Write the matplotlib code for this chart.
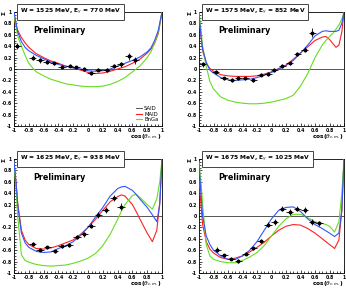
import numpy as np
import matplotlib.pyplot as plt
from matplotlib.ticker import MultipleLocator

# ---- data ----
titles = ["W = 1525 MeV, E$_{\\gamma}$ = 770 MeV",
          "W = 1575 MeV, E$_{\\gamma}$ = 852 MeV",
          "W = 1625 MeV, E$_{\\gamma}$ = 938 MeV",
          "W = 1675 MeV, E$_{\\gamma}$ = 1025 MeV"]

# measured points
pts_x = [
    [-0.96, -0.75, -0.65, -0.56, -0.46, -0.35, -0.25, -0.16, -0.06, 0.04, 0.14, 0.25, 0.35, 0.44, 0.55, 0.64],
    [-0.95, -0.77, -0.655, -0.55, -0.46, -0.36, -0.25, -0.15, -0.05, 0.04, 0.15, 0.25, 0.356, 0.457, 0.563],
    [-0.75, -0.65, -0.55, -0.45, -0.35, -0.255, -0.15, -0.05, 0.04, 0.14, 0.24, 0.345, 0.445],
    [-0.747, -0.655, -0.554, -0.457, -0.356, -0.25, -0.149, -0.048, 0.044, 0.149, 0.25, 0.356, 0.457, 0.563, 0.655],
]
pts_y = [
    [0.40, 0.20, 0.15, 0.12, 0.10, 0.04, 0.06, 0.03, 0.0, -0.07, -0.01, -0.02, 0.05, 0.08, 0.22, 0.15],
    [0.08, -0.05, -0.165, -0.195, -0.155, -0.165, -0.195, -0.10, -0.085, -0.02, 0.05, 0.10, 0.26, 0.34, 0.64],
    [-0.49, -0.59, -0.55, -0.62, -0.53, -0.51, -0.37, -0.32, -0.17, 0.015, 0.10, 0.31, 0.16],
    [-0.59, -0.69, -0.75, -0.79, -0.66, -0.57, -0.44, -0.15, -0.10, 0.13, 0.07, 0.13, 0.10, -0.11, -0.13],
]
pts_ey = [
    [0.05, 0.04, 0.04, 0.03, 0.03, 0.03, 0.03, 0.03, 0.03, 0.03, 0.03, 0.03, 0.04, 0.04, 0.06, 0.06],
    [0.05, 0.04, 0.03, 0.03, 0.03, 0.03, 0.03, 0.03, 0.03, 0.03, 0.03, 0.03, 0.04, 0.05, 0.08],
    [0.04, 0.03, 0.03, 0.03, 0.03, 0.03, 0.04, 0.04, 0.04, 0.05, 0.05, 0.05, 0.06],
    [0.04, 0.03, 0.03, 0.03, 0.03, 0.03, 0.04, 0.05, 0.05, 0.05, 0.05, 0.05, 0.05, 0.05, 0.05],
]

# model curves: x grid per panel, then SAID / MAID / BnGa
cx = [
    [-1.0, -0.95, -0.9, -0.85, -0.8, -0.7, -0.6, -0.5, -0.4, -0.3, -0.2, -0.1, 0.0, 0.1, 0.2, 0.3, 0.4, 0.5, 0.6, 0.7, 0.8, 0.85, 0.9, 0.95, 1.0],
    [-1.0, -0.97, -0.95, -0.9, -0.85, -0.8, -0.7, -0.6, -0.5, -0.4, -0.3, -0.2, -0.1, 0.0, 0.1, 0.2, 0.3, 0.4, 0.5, 0.6, 0.7, 0.75, 0.8, 0.85, 0.89, 0.93, 0.97, 1.0],
    [-1.0, -0.97, -0.95, -0.9, -0.85, -0.8, -0.7, -0.6, -0.5, -0.4, -0.3, -0.2, -0.1, 0.0, 0.1, 0.2, 0.3, 0.4, 0.45, 0.5, 0.6, 0.65, 0.7, 0.8, 0.87, 0.93, 0.97, 1.0],
    [-1.0, -0.97, -0.95, -0.9, -0.85, -0.8, -0.7, -0.6, -0.5, -0.4, -0.3, -0.2, -0.1, 0.0, 0.1, 0.2, 0.3, 0.4, 0.5, 0.6, 0.7, 0.75, 0.8, 0.87, 0.93, 0.97, 1.0],
]
said = [
    [0.88, 0.68, 0.55, 0.46, 0.38, 0.27, 0.20, 0.14, 0.10, 0.05, 0.02, -0.02, -0.06, -0.08, -0.07, -0.04, 0.0, 0.04, 0.10, 0.17, 0.28, 0.35, 0.45, 0.62, 1.0],
    [0.95, 0.55, 0.32, 0.10, 0.01, -0.04, -0.10, -0.12, -0.13, -0.13, -0.13, -0.12, -0.09, -0.05, 0.01, 0.07, 0.17, 0.28, 0.39, 0.50, 0.56, 0.57, 0.52, 0.44, 0.38, 0.42, 0.65, 1.0],
    [0.95, 0.55, 0.22, -0.25, -0.42, -0.50, -0.57, -0.58, -0.56, -0.52, -0.47, -0.42, -0.32, -0.20, -0.06, 0.10, 0.25, 0.34, 0.37, 0.35, 0.20, 0.08, -0.05, -0.30, -0.45, -0.25, 0.25, 1.0],
    [0.65, 0.15, -0.15, -0.45, -0.58, -0.65, -0.73, -0.76, -0.74, -0.70, -0.63, -0.55, -0.46, -0.35, -0.25, -0.18, -0.15, -0.16, -0.22, -0.30, -0.40, -0.45, -0.50, -0.57, -0.42, 0.1, 1.0],
]
maid = [
    [0.95, 0.58, 0.40, 0.24, 0.10, -0.05, -0.12, -0.18, -0.22, -0.26, -0.28, -0.30, -0.31, -0.31, -0.30, -0.27, -0.22, -0.15, -0.05, 0.05, 0.20, 0.30, 0.45, 0.65, 1.0],
    [1.0, 0.65, 0.40, 0.05, -0.22, -0.35, -0.49, -0.55, -0.58, -0.60, -0.61, -0.61, -0.60, -0.58, -0.55, -0.52, -0.46, -0.30, -0.08, 0.20, 0.42, 0.50, 0.57, 0.63, 0.70, 0.77, 0.88, 1.0],
    [0.95, 0.40, 0.00, -0.68, -0.78, -0.81, -0.85, -0.87, -0.88, -0.87, -0.86, -0.83, -0.79, -0.74, -0.66, -0.52, -0.32, -0.06, 0.08, 0.20, 0.36, 0.38, 0.33, 0.20, 0.12, 0.30, 0.60, 1.0],
    [0.95, 0.55, 0.20, -0.50, -0.70, -0.76, -0.80, -0.82, -0.82, -0.78, -0.72, -0.64, -0.52, -0.35, -0.18, -0.05, 0.03, 0.03, -0.03, -0.10, -0.13, -0.15, -0.18, -0.28, -0.10, 0.40, 1.0],
]
bnga = [
    [1.0, 0.65, 0.48, 0.38, 0.32, 0.24, 0.18, 0.12, 0.08, 0.05, 0.02, 0.0, -0.03, -0.04, -0.03, 0.0, 0.05, 0.10, 0.15, 0.21, 0.30, 0.37, 0.50, 0.68, 1.0],
    [0.95, 0.55, 0.35, 0.12, -0.02, -0.07, -0.15, -0.19, -0.20, -0.19, -0.18, -0.15, -0.11, -0.06, 0.0, 0.06, 0.15, 0.28, 0.42, 0.58, 0.66, 0.67, 0.66, 0.66, 0.66, 0.68, 0.80, 1.0],
    [0.95, 0.55, 0.20, -0.30, -0.47, -0.55, -0.62, -0.64, -0.63, -0.57, -0.52, -0.45, -0.34, -0.20, -0.02, 0.15, 0.35, 0.48, 0.51, 0.52, 0.45, 0.38, 0.30, 0.15, 0.02, -0.10, 0.2, 1.0],
    [0.9, 0.35, 0.0, -0.35, -0.50, -0.60, -0.70, -0.76, -0.76, -0.70, -0.60, -0.45, -0.25, -0.05, 0.10, 0.15, 0.16, 0.08, -0.05, -0.15, -0.22, -0.26, -0.30, -0.36, -0.30, 0.10, 1.0],
]

# axes boxes in pixels: left, right, top, bottom
boxes = [(14, 162, 12, 126), (199, 344, 12, 126), (14, 162, 159, 273), (199, 344, 159, 273)]
W, H = 346, 291

fig = plt.figure(figsize=(W / 100, H / 100), dpi=100)
fig.patch.set_facecolor("white")

ticks = np.round(np.arange(-1, 1.01, 0.2), 1)
tick_labels = [f"{v:g}" if abs(v) > 1e-9 else "0" for v in ticks]

for i in range(4):
    l, r, t, b = boxes[i]
    ax = fig.add_axes([l / W, 1 - b / H, (r - l) / W, (b - t) / H])
    ax.set_xlim(-1, 1)
    ax.set_ylim(-1, 1)
    ax.axhline(0, color="#555555", lw=0.7, zorder=1)

    ax.plot(cx[i], said[i], color="#ff2020", lw=0.8, zorder=3)
    ax.plot(cx[i], maid[i], color="#66dd22", lw=0.8, zorder=3)
    ax.plot(cx[i], bnga[i], color="#3355ff", lw=0.8, zorder=3)
    ax.errorbar(pts_x[i], pts_y[i], xerr=0.05, yerr=pts_ey[i], fmt="o", ms=1.8,
                color="black", elinewidth=0.6, capsize=0, zorder=4)

    ax.xaxis.set_minor_locator(MultipleLocator(0.05))
    ax.yaxis.set_minor_locator(MultipleLocator(0.05))
    ax.set_xticks(ticks)
    ax.set_xticklabels(tick_labels, fontweight="bold")
    ax.set_yticks(ticks)
    ax.set_yticklabels(tick_labels, fontweight="bold")
    ax.tick_params(which="both", direction="in", labelsize=3.3, width=0.5, pad=1.5)
    ax.tick_params(which="major", length=2.5)
    ax.tick_params(which="minor", length=1.3)
    for s in ax.spines.values():
        s.set_linewidth(0.6)

    ax.text(1.0, -0.095, "cos($\\theta_{c.m.}$)", transform=ax.transAxes, ha="right",
            va="center", fontsize=4.2, fontweight="bold")
    ax.text(-0.065, 0.99, "Σ", transform=ax.transAxes, ha="center", va="center",
            fontsize=4.2, fontweight="bold", rotation=90)
    ax.text(0.13, 0.82, "Preliminary", transform=ax.transAxes, fontsize=5.8,
            fontweight="bold")
    ax.text(0.04, 1.0, titles[i], transform=ax.transAxes, fontsize=4.3, fontweight="bold",
            va="center", ha="left",
            bbox=dict(boxstyle="square,pad=0.45", fc="white", ec="#444444", lw=0.7))

    if i == 0:
        ax.legend(["SAID", "MAID", "BnGa"], loc="lower right", fontsize=3.8,
                  frameon=False, handlelength=1.2, labelspacing=0.15,
                  borderaxespad=0.3, handletextpad=0.3)

fig.savefig("out.png", dpi=100)
